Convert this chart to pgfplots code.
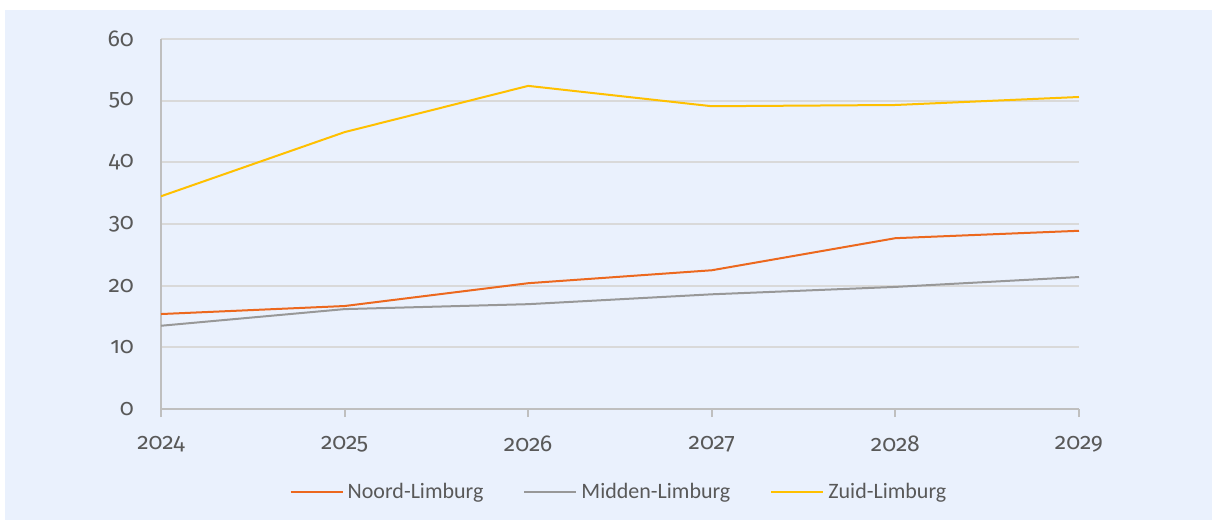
\documentclass[border=0pt]{standalone}
\usepackage{pgfplots}
\pgfplotsset{compat=1.18}
\usepackage{fontspec}
\setmainfont{Carlito}
\newfontfamily\tickfont[Numbers=OldStyle]{Fira Sans}
\definecolor{bgblue}{RGB}{234,241,253}
\definecolor{noord}{RGB}{236,104,30}
\definecolor{midden}{RGB}{152,152,152}
\definecolor{zuid}{RGB}{255,192,0}
\definecolor{gridc}{RGB}{217,217,217}
\definecolor{axc}{RGB}{191,191,191}
\definecolor{txt}{RGB}{89,89,89}
\begin{document}
\begin{tikzpicture}
\useasboundingbox (-80.5pt,-55.5pt) rectangle (525.5pt,204.5pt);
\fill[white] (-80.5pt,-55.5pt) rectangle (525.5pt,204.5pt);
\fill[bgblue] (-78pt,-55.5pt) rectangle (525.5pt,199.5pt);
\begin{axis}[
  at={(0pt,0pt)}, anchor=origin,
  scale only axis, width=459pt, height=185pt,
  xmin=0, xmax=5, ymin=0, ymax=60,
  xtick={0,1,2,3,4,5},
  xticklabels={2024,2025,2026,2027,2028,2029},
  ytick={0,10,20,30,40,50,60},
  /pgf/number format/assume math mode=true,
  axis x line*=bottom, axis y line*=left,
  x axis line style={draw=axc, line width=1pt, -},
  y axis line style={draw=axc, line width=1pt, -},
  ymajorgrids, major grid style={draw=gridc, line width=1pt},
  x tick style={draw=axc, line width=1pt},
  y tick style={draw=none},
  major tick length=4pt,
  tick align=outside,
  xticklabel style={font=\tickfont\fontsize{11.5}{13.5}\selectfont, text=txt, yshift=-6pt},
  yticklabel style={font=\tickfont\fontsize{11.5}{13.5}\selectfont, text=txt, xshift=-6pt},
  legend style={at={(0.5,-0.224)}, anchor=center, draw=none, fill=none,
    font=\fontsize{11}{13}\selectfont, text=txt, legend columns=3,
    /tikz/every even column/.append style={column sep=18pt}},
  legend image code/.code={\draw[#1] (0pt,0pt) -- (26pt,0pt);},
  every axis plot/.append style={line width=1pt},
]
\addplot[noord] coordinates {(0,15.4) (1,16.7) (2,20.4) (3,22.5) (4,27.7) (5,28.9)};
\addlegendentry{Noord-Limburg}
\addplot[midden] coordinates {(0,13.5) (1,16.2) (2,17.0) (3,18.6) (4,19.8) (5,21.4)};
\addlegendentry{Midden-Limburg}
\addplot[zuid] coordinates {(0,34.5) (1,44.9) (2,52.4) (3,49.1) (4,49.3) (5,50.6)};
\addlegendentry{Zuid-Limburg}
\end{axis}
\end{tikzpicture}
\end{document}
